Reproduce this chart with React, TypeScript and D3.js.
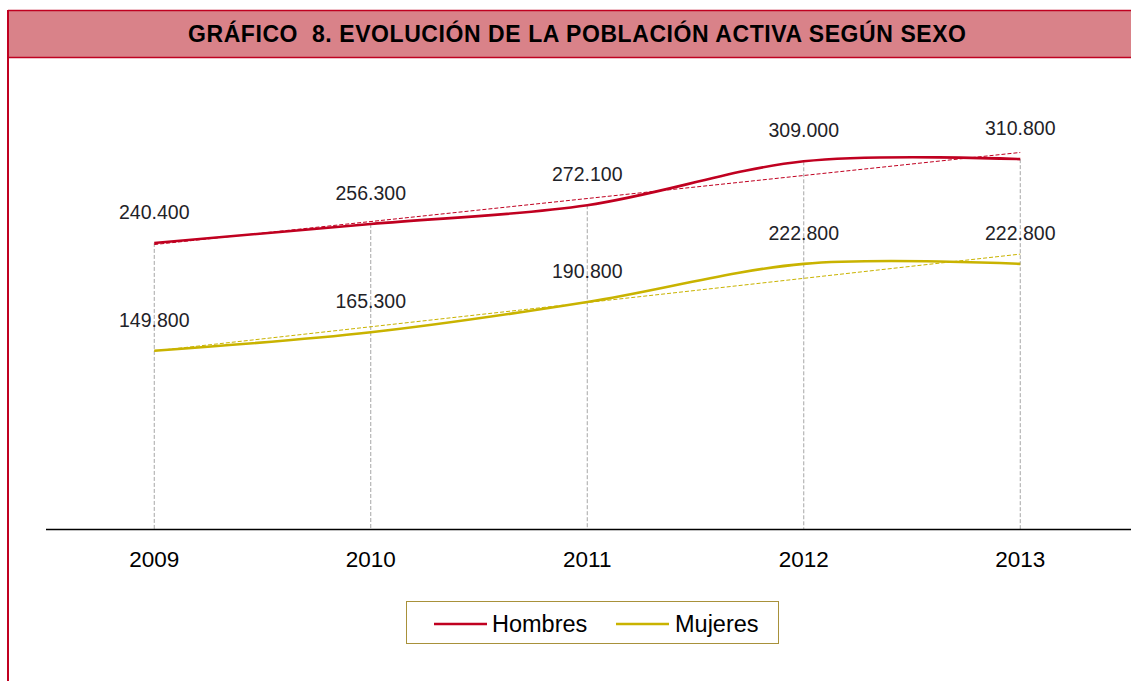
import React from "react";
import * as d3 from "d3";

const years = ["2009", "2010", "2011", "2012", "2013"];
const hombres = [240400, 256300, 272100, 309000, 310800];
const mujeres = [149800, 165300, 190800, 222800, 222800];
const valueLabelsH = ["240.400", "256.300", "272.100", "309.000", "310.800"];
const valueLabelsM = ["149.800", "165.300", "190.800", "222.800", "222.800"];
const seriesNames = ["Hombres", "Mujeres"];
const title = "GRÁFICO  8. EVOLUCIÓN DE LA POBLACIÓN ACTIVA SEGÚN SEXO";

const W = 1131;
const H = 681;
const RED = "#C00020";
const YEL = "#C9B300";
const FONT = "'Liberation Sans', Arial, sans-serif";

function regression(vals: number[]) {
  const n = vals.length;
  const xs = vals.map((_, i) => i);
  const mx = d3.mean(xs)!;
  const my = d3.mean(vals)!;
  let num = 0, den = 0;
  xs.forEach((x, i) => { num += (x - mx) * (vals[i] - my); den += (x - mx) * (x - mx); });
  const slope = num / den;
  const b = my - slope * mx;
  return [b, b + slope * (n - 1)];
}

export default function App() {
  const x = d3.scaleBand<string>().domain(years).range([46, 1128.5]);
  const cx = (y: string) => x(y)! + x.bandwidth() / 2;
  const y = d3.scaleLinear().domain([0, 350000]).range([529, 112.5]);
  const line = d3
    .line<number>()
    .x((_, i) => cx(years[i]))
    .y((d) => y(d))
    .curve(d3.curveCardinal.tension(0));

  const series = [
    { name: seriesNames[0], vals: hombres, labels: valueLabelsH, color: RED },
    { name: seriesNames[1], vals: mujeres, labels: valueLabelsM, color: YEL },
  ];

  return (
    <svg
      width={W}
      height={H}
      style={{ position: "absolute", left: 0, top: 0, background: "#fff" }}
      fontFamily={FONT}
    >
      {/* title bar */}
      <rect x={8} y={10} width={W - 8} height={47} fill="#D98289" />
      <line x1={8} x2={W} y1={10.5} y2={10.5} stroke={RED} strokeWidth={1.5} />
      <line x1={8} x2={W} y1={57.5} y2={57.5} stroke={RED} strokeWidth={1.5} />
      <line x1={8} x2={8} y1={10} y2={H} stroke={RED} strokeWidth={2} />
      <text
        x={577}
        y={42}
        textAnchor="middle"
        fontSize={23}
        fontWeight="bold"
        fill="#000"
        textLength={778}
        lengthAdjust="spacing"
        style={{ whiteSpace: "pre" }}
      >
        {title}
      </text>

      {/* drop lines */}
      {years.map((yr, i) => (
        <line
          key={yr}
          x1={cx(yr)}
          x2={cx(yr)}
          y1={y(Math.max(hombres[i], mujeres[i]))}
          y2={529}
          stroke="#A6A6A6"
          strokeWidth={1}
          strokeDasharray="4,2"
        />
      ))}

      {/* axis */}
      <line x1={46} x2={W} y1={529.5} y2={529.5} stroke="#000" strokeWidth={1.3} />
      {years.map((yr) => (
        <text key={yr} x={cx(yr)} y={567} textAnchor="middle" fontSize={22.5} fill="#000">
          {yr}
        </text>
      ))}

      {/* trendlines */}
      {series.map((s) => {
        const [a, b] = regression(s.vals);
        return (
          <line
            key={s.name + "t"}
            x1={cx(years[0])}
            x2={cx(years[years.length - 1])}
            y1={y(a)}
            y2={y(b)}
            stroke={s.color}
            strokeWidth={1}
            strokeDasharray="4,2"
          />
        );
      })}

      {/* series lines */}
      {series.map((s) => (
        <path key={s.name} d={line(s.vals)!} fill="none" stroke={s.color} strokeWidth={2.6} />
      ))}

      {/* value labels */}
      {series.map((s) =>
        s.labels.map((lab, i) => (
          <text
            key={s.name + i}
            x={cx(years[i])}
            y={y(s.vals[i]) - 24}
            textAnchor="middle"
            fontSize={19.5}
            fill="#1F2328"
          >
            {lab}
          </text>
        ))
      )}

      {/* legend */}
      <rect x={406.5} y={601.5} width={372} height={42} fill="#fff" stroke="#A8913A" strokeWidth={1} />
      <line x1={434} x2={487} y1={624} y2={624} stroke={RED} strokeWidth={2.6} />
      <text x={492} y={632} fontSize={23.5} fill="#000">{seriesNames[0]}</text>
      <line x1={616} x2={669} y1={624} y2={624} stroke={YEL} strokeWidth={2.6} />
      <text x={675} y={632} fontSize={23.5} fill="#000">{seriesNames[1]}</text>
    </svg>
  );
}
